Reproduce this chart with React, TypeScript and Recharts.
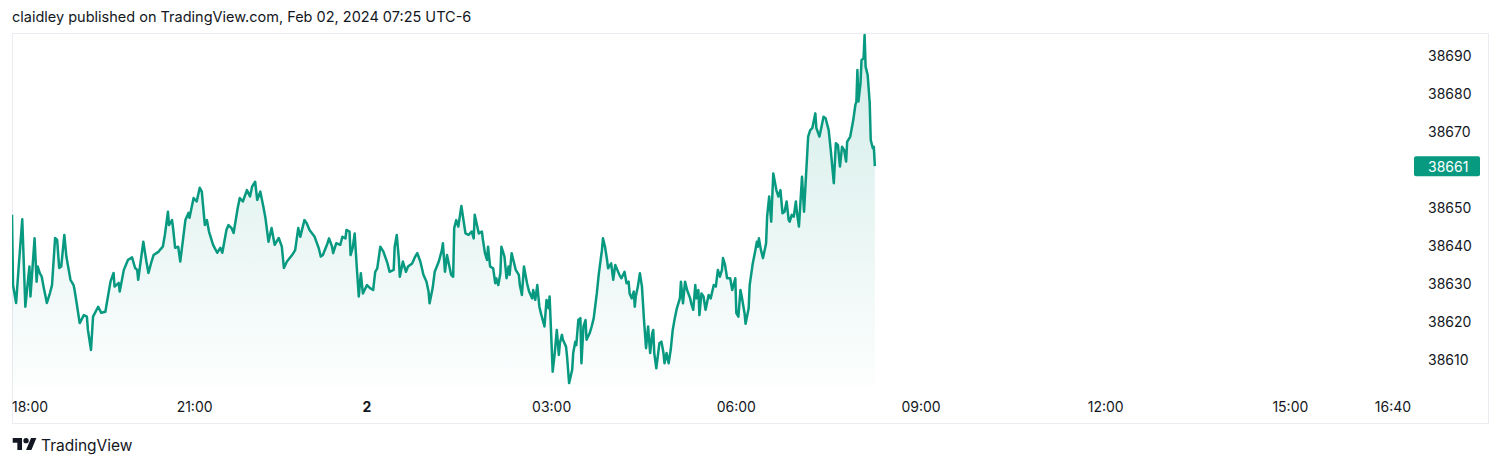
import React from 'react';
import { AreaChart, Area, XAxis, YAxis } from 'recharts';

// minutes since the 18:00 session open (bar spacing), last price
const trades: [number, number][] = [
  [0, 38648.2], [1, 38629.7], [4, 38625.0], [7, 38636.3], [10, 38647.0], [13, 38624.0], [17, 38634.6], [18, 38626.7],
  [22, 38642.0], [24, 38630.6], [25, 38634.6], [27, 38632.9], [29, 38631.9], [31, 38628.9], [34, 38625.0], [37, 38627.6],
  [39, 38629.7], [42, 38642.1], [44, 38641.6], [46, 38634.2], [48, 38634.6], [51, 38642.9], [53, 38637.2], [57, 38631.1],
  [60, 38629.7], [61, 38628.4], [63, 38625.0], [66, 38619.7], [70, 38621.8], [73, 38621.4], [74, 38617.9], [77, 38612.6],
  [79, 38621.4], [84, 38624.0], [87, 38622.4], [91, 38622.7], [96, 38630.6], [99, 38632.9], [100, 38629.3], [104, 38630.3],
  [105, 38628.0], [109, 38633.7], [113, 38636.3], [117, 38637.0], [120, 38634.2], [122, 38633.7], [123, 38631.1], [128, 38641.1],
  [131, 38635.9], [133, 38632.9], [136, 38635.9], [138, 38637.6], [143, 38638.5], [144, 38638.9], [147, 38639.8], [149, 38642.9],
  [152, 38649.0], [153, 38645.5], [156, 38646.8], [157, 38644.7], [159, 38639.5], [162, 38639.8], [164, 38635.9], [167, 38642.4],
  [169, 38646.8], [172, 38648.7], [173, 38647.4], [177, 38652.6], [180, 38651.7], [183, 38655.3], [185, 38654.3], [186, 38651.3],
  [188, 38645.5], [190, 38646.8], [192, 38643.8], [196, 38640.3], [200, 38638.2], [203, 38639.5], [205, 38638.2], [209, 38644.2],
  [211, 38645.5], [214, 38644.7], [216, 38643.4], [220, 38650.0], [222, 38652.6], [225, 38651.7], [229, 38654.7], [232, 38653.0],
  [234, 38655.6], [237, 38656.9], [239, 38652.1], [242, 38654.3], [245, 38650.3], [247, 38647.4], [250, 38641.1], [253, 38644.7],
  [256, 38640.3], [260, 38642.1], [263, 38639.8], [265, 38634.2], [268, 38635.9], [273, 38637.6], [276, 38638.9], [279, 38644.7],
  [281, 38642.4], [285, 38646.8], [287, 38646.1], [290, 38644.2], [295, 38642.4], [299, 38639.4], [301, 38637.2], [303, 38637.6],
  [307, 38640.3], [309, 38642.0], [312, 38639.8], [313, 38638.1], [316, 38640.7], [320, 38640.3], [322, 38642.4], [325, 38642.0],
  [326, 38644.2], [329, 38643.8], [330, 38637.6], [332, 38639.4], [334, 38643.3], [336, 38634.6], [338, 38626.7], [340, 38632.8],
  [342, 38627.5], [346, 38629.7], [349, 38628.9], [352, 38628.4], [354, 38633.2], [356, 38634.1], [359, 38639.8], [362, 38638.5],
  [366, 38635.4], [368, 38633.2], [372, 38633.7], [373, 38639.8], [375, 38642.9], [377, 38636.8], [378, 38631.9], [381, 38635.9],
  [384, 38633.2], [386, 38634.6], [390, 38635.4], [393, 38637.2], [395, 38638.1], [398, 38635.9], [401, 38632.4], [404, 38630.6],
  [406, 38628.0], [407, 38624.9], [410, 38628.9], [412, 38633.2], [416, 38635.9], [419, 38638.9], [420, 38640.7], [422, 38633.2],
  [424, 38637.6], [425, 38636.3], [428, 38632.4], [430, 38631.9], [431, 38644.7], [433, 38646.8], [435, 38645.1], [438, 38650.5],
  [442, 38643.3], [445, 38642.9], [448, 38643.8], [450, 38642.0], [451, 38648.2], [455, 38643.3], [458, 38643.8], [459, 38641.6],
  [461, 38638.1], [463, 38636.3], [464, 38639.8], [466, 38634.6], [469, 38634.1], [471, 38630.2], [472, 38631.5], [474, 38629.7],
  [476, 38632.8], [477, 38639.8], [480, 38637.2], [482, 38631.5], [484, 38634.6], [485, 38632.4], [487, 38638.1], [489, 38635.9],
  [491, 38633.7], [494, 38632.4], [495, 38629.7], [497, 38627.1], [499, 38634.6], [502, 38630.2], [504, 38628.0], [507, 38626.2],
  [508, 38628.4], [510, 38625.8], [512, 38629.7], [514, 38624.0], [516, 38621.8], [519, 38618.8], [521, 38625.8], [523, 38623.6],
  [524, 38626.7], [526, 38613.5], [527, 38606.9], [529, 38611.8], [531, 38617.9], [533, 38611.3], [534, 38614.4], [536, 38616.6],
  [537, 38615.3], [540, 38613.5], [541, 38610.9], [543, 38603.9], [546, 38607.4], [547, 38611.8], [549, 38614.8], [550, 38613.9],
  [552, 38620.5], [554, 38621.0], [555, 38609.1], [557, 38618.8], [559, 38620.5], [560, 38615.3], [563, 38617.0], [565, 38618.8],
  [567, 38621.0], [568, 38623.2], [570, 38627.5], [572, 38632.8], [575, 38638.9], [576, 38642.0], [578, 38639.8], [580, 38636.3],
  [581, 38634.1], [584, 38635.4], [586, 38631.1], [588, 38635.0], [590, 38633.7], [592, 38632.4], [594, 38631.5], [597, 38633.2],
  [599, 38630.2], [601, 38630.6], [602, 38627.5], [604, 38626.2], [606, 38628.0], [607, 38624.0], [608, 38626.7], [610, 38629.3],
  [612, 38632.8], [614, 38629.3], [616, 38620.5], [618, 38613.1], [620, 38618.8], [622, 38611.8], [624, 38617.0], [625, 38617.9],
  [626, 38611.8], [628, 38607.8], [631, 38614.4], [633, 38614.8], [635, 38611.8], [636, 38609.1], [638, 38611.8], [640, 38609.1],
  [642, 38612.6], [644, 38617.9], [646, 38621.0], [648, 38623.6], [651, 38626.2], [652, 38630.6], [654, 38624.9], [656, 38630.6],
  [658, 38628.4], [661, 38626.2], [662, 38624.9], [664, 38623.2], [666, 38629.7], [667, 38626.2], [669, 38628.4], [670, 38621.8],
  [672, 38627.5], [674, 38626.7], [676, 38623.2], [679, 38627.1], [681, 38626.2], [684, 38629.7], [686, 38629.3], [688, 38633.7],
  [690, 38631.9], [692, 38633.7], [693, 38636.8], [695, 38635.0], [697, 38631.5], [700, 38631.5], [702, 38628.4], [705, 38631.5],
  [706, 38622.3], [708, 38621.4], [710, 38628.4], [711, 38627.1], [714, 38622.3], [715, 38619.5], [718, 38623.6], [719, 38629.7],
  [722, 38635.4], [724, 38638.1], [726, 38641.1], [727, 38639.8], [728, 38642.0], [730, 38638.9], [732, 38636.8], [735, 38640.7],
  [736, 38647.7], [738, 38653.0], [740, 38646.4], [742, 38659.1], [745, 38654.7], [747, 38653.0], [749, 38654.7], [751, 38648.6],
  [753, 38649.0], [755, 38651.7], [757, 38646.8], [758, 38646.4], [760, 38648.2], [762, 38647.7], [764, 38651.7], [765, 38649.0],
  [767, 38645.1], [770, 38658.2], [772, 38649.0], [776, 38668.8], [778, 38670.5], [780, 38671.0], [783, 38674.9], [784, 38671.0],
  [787, 38668.8], [789, 38671.4], [791, 38674.0], [793, 38673.6], [796, 38670.5], [798, 38665.3], [801, 38656.5], [803, 38667.0],
  [805, 38666.6], [807, 38660.9], [809, 38666.1], [811, 38665.3], [813, 38662.2], [814, 38667.4], [817, 38668.8], [820, 38673.2],
  [822, 38677.1], [823, 38678.0], [824, 38686.3], [825, 38678.0], [827, 38682.8], [828, 38688.9], [830, 38689.4], [831, 38695.5],
  [832, 38687.2], [834, 38685.0], [836, 38677.6], [837, 38667.9], [839, 38665.7], [840, 38666.1], [841, 38661.0],
];

const timeTicks = [0, 178, 346, 526, 706, 886, 1066, 1246, 1346];
const timeLabels = ['18:00', '21:00', '2', '03:00', '06:00', '09:00', '12:00', '15:00', '16:40'];
const priceTicks = [38610, 38620, 38630, 38640, 38650, 38661, 38670, 38680, 38690];
const lastPrice = 38661;

const data = trades.map(([m, price]) => ({ m, price }));

const FONT = 'Inter, "Noto Sans", sans-serif';
const TEXT = '#131722';
const GREEN = '#089981';

const TimeTick = (props: any) => {
  const { x, payload } = props;
  const i = timeTicks.indexOf(payload.value);
  const label = timeLabels[i];
  return (
    <text
      x={i === 0 ? 12 : x}
      y={412}
      textAnchor={i === 0 ? 'start' : 'middle'}
      fontFamily={FONT}
      fontSize={14}
      fontWeight={label === '2' ? 700 : 400}
      fill={TEXT}
    >
      {label}
    </text>
  );
};

const PriceTick = (props: any) => {
  const { y, payload } = props;
  if (payload.value === lastPrice) {
    return (
      <g>
        <rect x={1414} y={y - 10} width={66} height={20} rx={2} fill={GREEN} />
        <text x={1428} y={y} dominantBaseline="central" fontFamily={FONT} fontSize={14} fill="#ffffff">
          {payload.value}
        </text>
      </g>
    );
  }
  return (
    <text x={1428} y={y} dominantBaseline="central" fontFamily={FONT} fontSize={14} fill={TEXT}>
      {payload.value}
    </text>
  );
};

export default function App() {
  return (
    <div style={{ position: 'absolute', left: 0, top: 0, width: 1500, height: 466, background: '#fff' }}>
      <svg width={1500} height={466} style={{ position: 'absolute', left: 0, top: 0 }}>
        <text x={12} y={22} fontFamily={FONT} fontSize={14.5} fill={TEXT}>
          claidley published on TradingView.com, Feb 02, 2024 07:25 UTC-6
        </text>
        <rect x={12.5} y={33.5} width={1476} height={390} fill="none" stroke="#e9ecf1" />
        <g transform="translate(12.7 435.3) scale(0.667)" fill={TEXT}>
          <path d="M14 22H7V11H0V4h14v18zM28 22h-8l7.5-18h8L28 22z" />
          <circle cx={20} cy={8} r={4} />
        </g>
        <text x={41} y={451} fontFamily={FONT} fontSize={15.5} fill={TEXT}>
          TradingView
        </text>
      </svg>
      <div style={{ position: 'absolute', left: 0, top: 0 }}>
        <AreaChart width={1500} height={466} data={data} margin={{ top: 33, right: 12, bottom: 43, left: 12 }}>
          <defs>
            <linearGradient id="fillGrad" x1="0" y1="0" x2="0" y2="1">
              <stop offset="0%" stopColor={GREEN} stopOpacity={0.3} />
              <stop offset="100%" stopColor={GREEN} stopOpacity={0.02} />
            </linearGradient>
          </defs>
          <XAxis
            dataKey="m"
            type="number"
            domain={[0, 1362.6]}
            ticks={timeTicks}
            interval={0}
            height={38}
            axisLine={false}
            tickLine={false}
            tick={<TimeTick />}
            allowDataOverflow
          />
          <YAxis
            orientation="right"
            type="number"
            domain={[38603.4, 38696.05]}
            ticks={priceTicks}
            interval={0}
            width={78}
            axisLine={false}
            tickLine={false}
            tick={<PriceTick />}
            allowDataOverflow
          />
          <Area
            type="linear"
            dataKey="price"
            stroke={GREEN}
            strokeWidth={2.5}
            strokeLinejoin="round"
            fill="url(#fillGrad)"
            dot={false}
            activeDot={false}
            isAnimationActive={false}
          />
        </AreaChart>
      </div>
    </div>
  );
}
